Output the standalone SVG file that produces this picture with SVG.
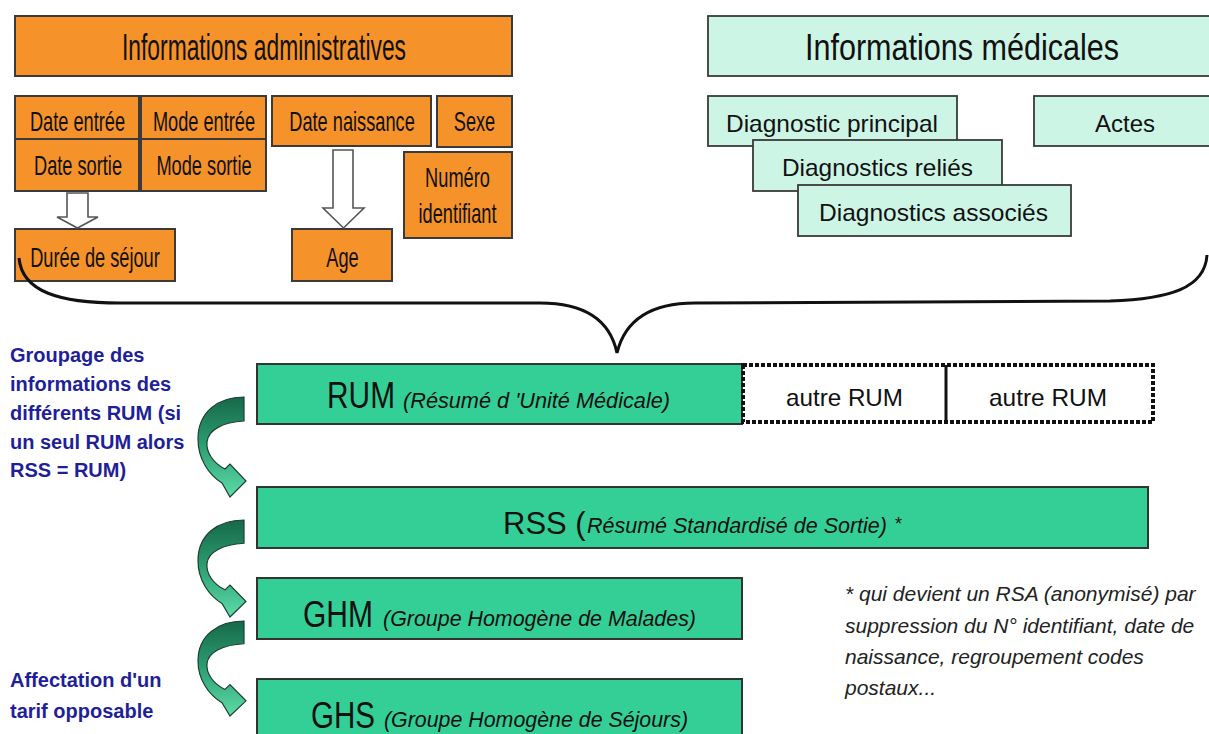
<svg xmlns="http://www.w3.org/2000/svg" width="1209" height="734" viewBox="0 0 1209 734">
<style>
  text { font-family: "Liberation Sans", Arial, sans-serif; fill: #111; }
  .org { fill: #f5922a; stroke: #3a3a3a; stroke-width: 2; }
  .med { fill: #cdf5e6; stroke: #3a3a3a; stroke-width: 1.8; }
  .grn { fill: #34cf96; stroke: #333; stroke-width: 2; }
  .hd { font-size: 36px; }
  .ot { font-size: 27px; text-anchor: middle; }
  .mt { font-size: 24px; }
  .big { font-size: 36px; }
  .it { font-size: 22px; font-style: italic; }
  .blue { font-size: 20px; font-weight: bold; fill: #1f1f99; }
  .note { font-size: 21px; font-style: italic; fill: #222; }
  .hollow { fill: #fff; stroke: #555; stroke-width: 1.6; }
  .carr { fill: url(#cg); stroke: #1d3f33; stroke-width: 1.2; }
</style>
<defs>
  <linearGradient id="cg" x1="0" y1="0" x2="0" y2="1">
    <stop offset="0" stop-color="#17684a"/>
    <stop offset="0.45" stop-color="#2a9a6e"/>
    <stop offset="1" stop-color="#5edca8"/>
  </linearGradient>
  <path id="curl" d="M 0 0 C -26 0 -46 15 -46 42 C -46 62 -35 78 -22 86 L -14 100 L 2 84 L -14 67 L -19 72 C -31 66 -38 55 -37 45 C -36 33 -21 25 0 24 Z"/>
</defs>
<rect width="1209" height="734" fill="#fff"/>

<g id="admin-header"><rect class="org" x="15" y="16" width="497" height="60"/><text class="hd" x="122" y="60" textLength="284" lengthAdjust="spacingAndGlyphs">Informations administratives</text></g>
<g id="med-header"><rect class="med" x="708" y="16" width="520" height="60"/><text class="hd" x="805" y="60" textLength="314" lengthAdjust="spacingAndGlyphs">Informations médicales</text></g>

<g id="date-entree"><rect class="org" x="15" y="96" width="124" height="43"/><text class="ot" transform="translate(77.5,131) scale(0.675,1)">Date entrée</text></g>
<g id="mode-entree"><rect class="org" x="141" y="96" width="125" height="43"/><text class="ot" transform="translate(204,131) scale(0.675,1)">Mode entrée</text></g>
<g id="date-sortie"><rect class="org" x="15" y="139" width="124" height="52"/><text class="ot" transform="translate(78,175) scale(0.675,1)">Date sortie</text></g>
<g id="mode-sortie"><rect class="org" x="141" y="139" width="125" height="52"/><text class="ot" transform="translate(204,175) scale(0.675,1)">Mode sortie</text></g>
<g id="date-naissance"><rect class="org" x="272" y="96" width="159" height="50"/><text class="ot" transform="translate(352,131) scale(0.675,1)">Date naissance</text></g>
<g id="sexe"><rect class="org" x="437" y="96" width="75" height="51"/><text class="ot" transform="translate(474.5,131) scale(0.675,1)">Sexe</text></g>
<g id="numero"><rect class="org" x="404" y="152" width="108" height="86"/><text class="ot" transform="translate(457.5,187) scale(0.675,1)">Numéro</text><text class="ot" transform="translate(457.5,223) scale(0.675,1)">identifiant</text></g>
<g id="duree"><rect class="org" x="15" y="229" width="160" height="52"/><text class="ot" transform="translate(95,267) scale(0.675,1)">Durée de séjour</text></g>
<g id="age"><rect class="org" x="292" y="229" width="100" height="52"/><text class="ot" transform="translate(342.5,267) scale(0.675,1)">Age</text></g>

<g id="diag-principal"><rect class="med" x="708" y="96" width="249" height="50"/><text class="mt" x="726" y="132" textLength="212" lengthAdjust="spacingAndGlyphs">Diagnostic principal</text></g>
<g id="diag-relies"><rect class="med" x="753" y="140" width="249" height="51"/><text class="mt" x="782" y="176" textLength="191" lengthAdjust="spacingAndGlyphs">Diagnostics reliés</text></g>
<g id="diag-associes"><rect class="med" x="798" y="185" width="273" height="51"/><text class="mt" x="819" y="221" textLength="229" lengthAdjust="spacingAndGlyphs">Diagnostics associés</text></g>
<g id="actes"><rect class="med" x="1034" y="96" width="190" height="50"/><text class="mt" x="1095" y="132" textLength="60" lengthAdjust="spacingAndGlyphs">Actes</text></g>

<g id="rum"><rect class="grn" x="257" y="364" width="485" height="60"/><text class="big" x="327" y="408" textLength="68" lengthAdjust="spacingAndGlyphs">RUM</text><text class="it" x="403" y="408" textLength="267" lengthAdjust="spacingAndGlyphs">(Résumé d 'Unité Médicale)</text></g>
<g id="autres-rum"><rect x="743" y="365" width="410" height="57" fill="#fff" stroke="#111" stroke-width="4" stroke-dasharray="4 2"/><line x1="946" y1="365" x2="946" y2="422" stroke="#111" stroke-width="3"/><text class="mt" x="786" y="406" textLength="117" lengthAdjust="spacingAndGlyphs">autre RUM</text><text class="mt" x="989" y="406" textLength="118" lengthAdjust="spacingAndGlyphs">autre RUM</text></g>
<g id="rss"><rect class="grn" x="257" y="487" width="891" height="61"/><text x="503" y="534" font-size="31">RSS (<tspan x="587" y="533" font-size="21.5" font-style="italic">Résumé Standardisé de Sortie)</tspan><tspan x="895" y="530" font-size="18">*</tspan></text></g>
<g id="ghm"><rect class="grn" x="257" y="578" width="485" height="61"/><text class="big" x="303" y="627" textLength="70" lengthAdjust="spacingAndGlyphs">GHM</text><text class="it" x="383" y="626" textLength="313" lengthAdjust="spacingAndGlyphs">(Groupe Homogène de Malades)</text></g>
<g id="ghs"><rect class="grn" x="257" y="679" width="485" height="70"/><text class="big" x="311" y="728" textLength="64" lengthAdjust="spacingAndGlyphs">GHS</text><text class="it" x="384" y="727" textLength="304" lengthAdjust="spacingAndGlyphs">(Groupe Homogène de Séjours)</text></g>

<g id="label-groupage">
  <text class="blue" x="10" y="362">Groupage des</text>
  <text class="blue" x="10" y="391">informations des</text>
  <text class="blue" x="10" y="420">différents RUM (si</text>
  <text class="blue" x="10" y="449">un seul RUM alors</text>
  <text class="blue" x="10" y="477">RSS = RUM)</text>
</g>
<g id="label-affectation">
  <text class="blue" x="10" y="687">Affectation d'un</text>
  <text class="blue" x="10" y="718">tarif opposable</text>
</g>
<g id="note">
  <text class="note" x="845" y="601">* qui devient un RSA (anonymisé) par</text>
  <text class="note" x="845" y="633">suppression du N° identifiant, date de</text>
  <text class="note" x="845" y="664">naissance, regroupement codes</text>
  <text class="note" x="845" y="695">postaux...</text>
</g>

<g id="connectors">
  <polygon class="hollow" points="67,193 88,193 88,217 98,217 77.5,228 57,217 67,217"/>
  <polygon class="hollow" points="333,150 353,150 353,208 364,208 343.5,228 323,208 333,208"/>
  <path d="M 19 258 C 22 292 60 303 120 303 L 540 303 C 585 303 610 320 617 353 C 625 320 650 303 695 303 L 1110 301 C 1170 299 1205 288 1207 255" fill="none" stroke="#111" stroke-width="3"/>
  <use href="#curl" class="carr" transform="translate(244,397)"/>
  <use href="#curl" class="carr" transform="translate(244,520) scale(1,0.97)"/>
  <use href="#curl" class="carr" transform="translate(244,621) scale(1,0.95)"/>
</g>
</svg>
